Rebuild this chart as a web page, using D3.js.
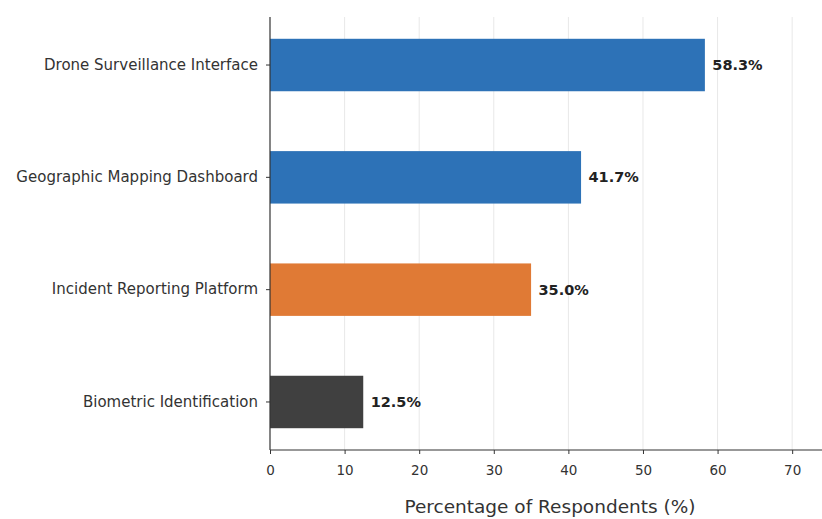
<!DOCTYPE html>
<html>
<head>
<meta charset="utf-8">
<script src="https://cdn.jsdelivr.net/npm/d3@7"></script>
<style>
  html, body { margin: 0; padding: 0; background: #fff; }
  svg { display: block; font-family: "DejaVu Sans", sans-serif; }
</style>
</head>
<body>
<svg id="chart" width="822" height="519"></svg>
<script>
// Survey results: share of respondents per technology interface
const categories = [
  "Drone Surveillance Interface",
  "Geographic Mapping Dashboard",
  "Incident Reporting Platform",
  "Biometric Identification"
];
const values = [58.3, 41.7, 35.0, 12.5];
const barColors = ["#2d72b7", "#2d72b7", "#e07a35", "#404040"];
const xTicks = [0, 10, 20, 30, 40, 50, 60, 70];
const xLabel = "Percentage of Respondents (%)";

const svg = d3.select("#chart");
const plotLeft = 270, plotRight = 822, plotTop = 17, plotBottom = 450;

const x = d3.scaleLinear().domain([0, 74]).range([plotLeft, plotRight]);
const y = d3.scaleBand()
  .domain(categories)
  .range([plotTop, plotBottom])
  .paddingInner(0.533)
  .paddingOuter(0.194);

// vertical grid lines
svg.append("g")
  .selectAll("line")
  .data(xTicks.filter(d => d > 0))
  .join("line")
  .attr("x1", d => x(d)).attr("x2", d => x(d))
  .attr("y1", plotTop).attr("y2", plotBottom)
  .attr("stroke", "#e8e8e8")
  .attr("stroke-width", 1);

// bars
svg.append("g")
  .selectAll("rect")
  .data(values)
  .join("rect")
  .attr("x", x(0))
  .attr("y", (d, i) => y(categories[i]))
  .attr("width", d => x(d) - x(0))
  .attr("height", y.bandwidth())
  .attr("fill", (d, i) => barColors[i]);

// value labels
svg.append("g")
  .selectAll("text")
  .data(values)
  .join("text")
  .attr("x", d => x(d + 1))
  .attr("y", (d, i) => y(categories[i]) + y.bandwidth() / 2)
  .attr("dy", "0.35em")
  .attr("font-size", 14.5)
  .attr("font-weight", "bold")
  .attr("fill", "#222")
  .text(d => d.toFixed(1) + "%");

// x axis
const xAxis = svg.append("g")
  .attr("transform", `translate(0,${plotBottom})`)
  .call(d3.axisBottom(x).tickValues(xTicks).tickSize(4).tickPadding(11).tickFormat(d3.format("d")));
xAxis.select(".domain").attr("stroke", "#333").attr("stroke-width", 1.2)
  .attr("d", `M${plotLeft},0H${plotRight}`);
xAxis.selectAll(".tick line").attr("stroke", "#333");
xAxis.selectAll(".tick text").attr("font-size", 13.5).attr("fill", "#333")
  .attr("font-family", "DejaVu Sans, sans-serif");

// y axis
const yAxis = svg.append("g")
  .attr("transform", `translate(${plotLeft},0)`)
  .call(d3.axisLeft(y).tickSize(4).tickPadding(8));
yAxis.select(".domain").attr("stroke", "#333").attr("stroke-width", 1.2)
  .attr("d", `M0,${plotTop}V${plotBottom}`);
yAxis.selectAll(".tick line").attr("stroke", "#333");
yAxis.selectAll(".tick text").attr("font-size", 15).attr("fill", "#333")
  .attr("font-family", "DejaVu Sans, sans-serif");

// axis title
svg.append("text")
  .attr("x", (plotLeft + plotRight) / 2 + 4)
  .attr("y", 513)
  .attr("text-anchor", "middle")
  .attr("font-size", 18.5)
  .attr("fill", "#333")
  .text(xLabel);
</script>
</body>
</html>
